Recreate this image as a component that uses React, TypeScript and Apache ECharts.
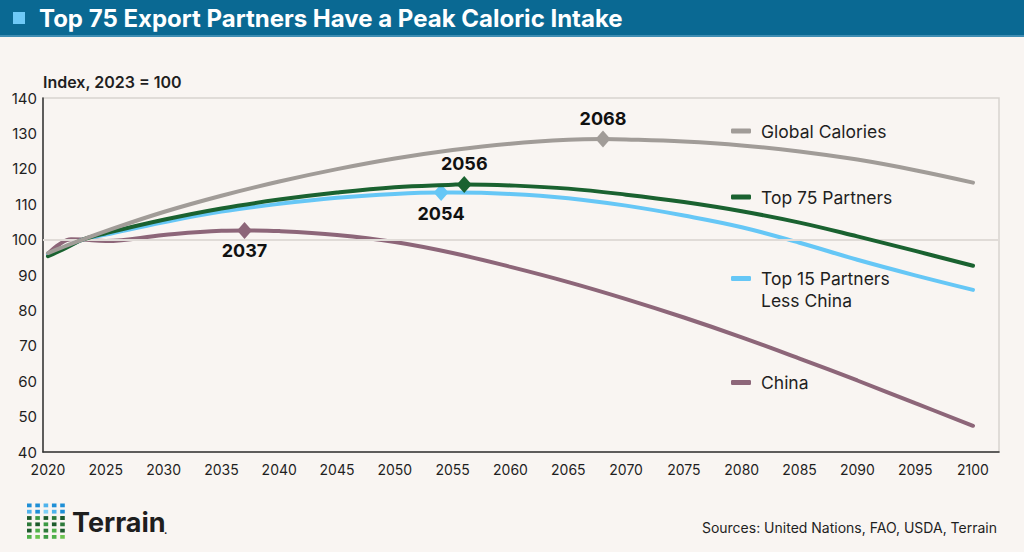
import React, { useEffect, useRef } from "react";
import * as echarts from "echarts";

// Projected caloric intake, indexed to 2023 = 100
const years = [2020, 2021, 2022, 2023, 2025, 2030, 2035, 2040, 2045, 2050, 2055, 2060, 2065, 2070, 2075, 2080, 2085, 2090, 2095, 2100];
const globalCalories = [96.2, 97.5, 98.8, 100, 102.4, 107.8, 112.4, 116.4, 119.9, 122.9, 125.3, 127.1, 128.2, 128.3, 127.7, 126.6, 124.9, 122.6, 119.6, 116.1];
const top75Partners = [95.3, 96.8, 98.4, 100, 101.8, 105.6, 108.8, 111.3, 113.3, 114.8, 115.5, 115.3, 114.4, 112.7, 110.6, 108.0, 104.8, 100.9, 96.8, 92.6];
const top15LessChina = [95.8, 97.2, 98.6, 100, 101.4, 104.9, 107.9, 110.1, 111.8, 112.9, 113.3, 112.9, 111.7, 109.6, 106.8, 103.5, 99.1, 94.3, 89.9, 85.8];
const china = [96.0, 98.7, 100.1, 100.0, 99.6, 101.3, 102.5, 102.4, 101.3, 99.3, 96.2, 92.3, 88.0, 83.2, 78.0, 72.4, 66.4, 60.2, 53.8, 47.4];

// Peak year and peak index for each series
const seriesNames = ["Global Calories", "Top 75 Partners", "Top 15 Partners Less China", "China"];
const peakYears = [2068, 2056, 2054, 2037];
const peakValues = [128.4, 115.6, 113.3, 102.6];

const xTickYears = [2020, 2025, 2030, 2035, 2040, 2045, 2050, 2055, 2060, 2065, 2070, 2075, 2080, 2085, 2090, 2095, 2100];
const yAxisTitle = "Index, 2023 = 100";
const chartTitle = "Top 75 Export Partners Have a Peak Caloric Intake";
const sourceNote = "Sources: United Nations, FAO, USDA, Terrain";

const COLORS = ["#a19c98", "#1a6230", "#66c7f6", "#8d6679"];
const INK = "#1f1f1f";
const FONT = "Inter, 'Noto Sans', sans-serif";

// Logo tile colours, row by row
const logoRows = [
  ["#1f8fd6", "#1f8fd6", "#4fb3ec", "#1f8fd6", "#1f8fd6"],
  ["#4fb3ec", "#1f8fd6", "#7fd0f7", "#4fb3ec", "#1f8fd6"],
  ["#1d5b2c", "#3c9a44", "#1d5b2c", "#2d7a3a", "#1d5b2c"],
  ["#2d7a3a", "#1d5b2c", "#3c9a44", "#1d5b2c", "#2d7a3a"],
  ["#1d5b2c", "#4fb04a", "#2d7a3a", "#4fb04a", "#1d5b2c"],
  ["#4fb04a", "#6cc450", "#3c9a44", "#4fb04a", "#6cc450"],
];

function withPeak(values: number[], peakYear: number, peakValue: number) {
  const pts = years.map((y, i) => [y, values[i]]);
  if (!years.includes(peakYear)) pts.push([peakYear, peakValue]);
  return pts.sort((a, b) => a[0] - b[0]);
}

export default function App() {
  const ref = useRef<HTMLDivElement>(null);

  useEffect(() => {
    document.body.style.margin = "0";
    if (!ref.current) return;
    const chart = echarts.init(ref.current, undefined, { renderer: "svg" });

    const valueSets = [globalCalories, top75Partners, top15LessChina, china];
    const labelPos = ["top", "top", "bottom", "bottom"];

    const series: any[] = valueSets
      .map((vals, i) => ({
        name: seriesNames[i],
        type: "line",
        smooth: 0.4,
        showSymbol: false,
        data: withPeak(vals, peakYears[i], peakValues[i]),
        lineStyle: { color: COLORS[i], width: 4, cap: "round" },
        itemStyle: { color: COLORS[i] },
        z: 3 + (3 - i),
        markPoint: {
          silent: true,
          symbol: "diamond",
          symbolSize: [15, 17],
          itemStyle: { color: COLORS[i] },
          label: {
            show: true,
            position: labelPos[i],
            distance: 3,
            formatter: String(peakYears[i]),
            fontFamily: FONT,
            fontSize: 18,
            fontWeight: "bold",
            color: "#111",
          },
          data: [{ coord: [peakYears[i], peakValues[i]] }],
        },
        ...(i === 3
          ? {
              markLine: {
                silent: true,
                symbol: "none",
                label: { show: false },
                lineStyle: { color: "#e0dbd7", width: 2, type: "solid" },
                data: [{ yAxis: 100 }],
              },
            }
          : {}),
      }))
      .reverse();

    const legendBase = {
      left: 731,
      padding: 0,
      itemWidth: 20,
      itemHeight: 5,
      icon: "roundRect",
      selectedMode: false,
      textStyle: { fontFamily: FONT, fontSize: 17.5, color: INK, lineHeight: 22, padding: [0, 0, 0, 5] },
    };

    const logo: any[] = [];
    logoRows.forEach((row, r) =>
      row.forEach((c, k) =>
        logo.push({
          type: "rect",
          shape: { x: 27 + k * 8.3, y: 503.5 + r * 6.3, width: 4.6, height: 3.8 },
          style: { fill: c },
        })
      )
    );

    chart.setOption({
      animation: false,
      backgroundColor: "#f9f5f2",
      grid: {
        left: 43,
        right: 25,
        top: 98,
        bottom: 100,
        show: true,
        borderColor: "#d8d3cf",
        borderWidth: 1.5,
        backgroundColor: "transparent",
      },
      xAxis: {
        type: "value",
        min: 2019.57,
        max: 2102.25,
        axisLine: { show: true, lineStyle: { color: "#333", width: 1.5 } },
        axisTick: { show: false },
        splitLine: { show: false },
        axisLabel: {
          customValues: xTickYears,
          formatter: (v: number) => String(v),
          fontFamily: FONT,
          fontSize: 14,
          color: INK,
          margin: 10,
        },
      },
      yAxis: {
        type: "value",
        min: 40,
        max: 140,
        interval: 10,
        name: yAxisTitle,
        nameLocation: "end",
        nameGap: 16,
        nameTextStyle: {
          fontFamily: FONT,
          fontSize: 16,
          fontWeight: 600,
          color: INK,
          align: "left",
          verticalAlign: "middle",
        },
        axisLine: { show: true, lineStyle: { color: "#333", width: 1.5 } },
        axisTick: { show: false },
        splitLine: { show: false },
        axisLabel: { fontFamily: FONT, fontSize: 15, color: INK, margin: 6 },
      },
      legend: [
        { ...legendBase, top: 120, data: [seriesNames[0]] },
        { ...legendBase, top: 186, data: [seriesNames[1]] },
        {
          ...legendBase,
          top: 245.5,
          data: [seriesNames[2]],
          formatter: () => " \nTop 15 Partners\nLess China",
        },
        { ...legendBase, top: 371.5, data: [seriesNames[3]] },
      ],
      series,
      graphic: [
        { type: "rect", shape: { x: 0, y: 0, width: 1024, height: 35 }, style: { fill: "#0a6993" } },
        { type: "rect", shape: { x: 0, y: 35, width: 1024, height: 2 }, style: { fill: "#3f8db3" } },
        { type: "rect", shape: { x: 13, y: 12, width: 12, height: 12 }, style: { fill: "#6ec9f7" } },
        {
          type: "text",
          x: 39,
          y: 18,
          style: {
            text: chartTitle,
            fill: "#ffffff",
            font: "bold 24px Inter, 'Noto Sans', sans-serif",
            verticalAlign: "middle",
          },
        },
        ...logo,
        {
          type: "text",
          x: 72,
          y: 522,
          style: {
            text: "Terrain",
            fill: "#1e1e1e",
            font: "bold 27px Inter, 'Noto Sans', sans-serif",
            verticalAlign: "middle",
          },
        },
        {
          type: "text",
          x: 164,
          y: 530,
          style: { text: ".", fill: "#1e1e1e", font: "bold 10px Inter, sans-serif", verticalAlign: "middle" },
        },
        {
          type: "text",
          x: 997,
          y: 527,
          style: {
            text: sourceNote,
            fill: INK,
            font: "14px Inter, 'Noto Sans', sans-serif",
            align: "right",
            verticalAlign: "middle",
          },
        },
      ],
    });

    return () => chart.dispose();
  }, []);

  return <div ref={ref} style={{ width: 1024, height: 552, background: "#f9f5f2" }} />;
}
